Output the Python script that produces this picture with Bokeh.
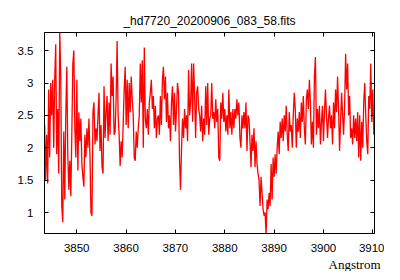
from bokeh.plotting import figure
from bokeh.models import LinearAxis, FixedTicker, Title
from bokeh.embed import file_html
from bokeh.resources import INLINE

title_text = "_hd7720_20200906_083_58.fits"
x_label = "Angstrom"

wave_start = 3843.5
wave_step = 0.204

flux_a = [2.35, 1.5, 2.2, 1.45, 2.9, 1.85, 3.0, 2.5, 3.05, 2.0, 3.05, 3.6, 1.9, 2.6, 1.6, 3.8,
          3.1, 1.1, 0.85, 2.25, 1.2, 2.5, 3.25, 1.9, 1.35, 1.8, 1.25, 2.2, 3.3, 3.5, 2.3, 1.85,
          3.05, 1.65, 2.55, 2.1, 2.45, 1.75, 1.55, 1.4, 2.2, 1.85, 2.3, 2.0, 2.45, 1.9, 1.0, 0.95,
          2.55, 2.7, 2.05, 2.3, 2.1, 2.5, 2.85, 1.95, 2.35, 1.7, 1.6, 2.95, 2.15, 2.55, 2.8, 2.1,
          2.7, 2.2]
flux_b = [3.3, 2.8, 3.1, 2.2, 2.25, 2.75, 3.65, 2.5, 2.2, 1.72, 2.1, 1.85, 2.35, 2.9, 3.25, 2.35,
          3.05, 2.3, 3.0, 2.55, 3.1, 2.75, 2.5, 1.85, 1.8, 2.25, 2.0, 2.3, 2.5, 3.3, 2.7, 3.35,
          2.0, 3.55, 2.45, 2.3, 2.6, 2.2, 2.7, 2.85, 3.05, 2.6, 2.8, 2.3, 2.65, 2.15, 2.45, 2.5,
          2.2, 2.8, 2.35, 3.05, 3.25, 2.75, 3.1, 2.4, 2.85, 2.3, 2.5, 2.1, 2.7, 2.95, 2.35, 2.85,
          2.25, 2.6]
flux_c = [3.0, 2.85, 1.8, 1.35, 2.0, 2.45, 2.15, 2.6, 2.3, 2.5, 2.1, 3.2, 2.5, 2.7, 3.3, 2.4,
          3.3, 2.8, 2.15, 2.85, 2.95, 2.6, 2.5, 2.25, 2.65, 2.1, 2.45, 2.2, 2.95, 2.35, 3.0, 2.2,
          2.45, 2.5, 3.0, 2.45, 2.55, 2.3, 2.75, 2.4, 2.6, 1.85, 1.8, 2.7, 2.45, 2.85, 2.4, 2.6,
          2.25, 2.5, 2.2, 2.9, 2.3, 2.55, 2.2, 2.6, 2.3, 2.6, 2.45, 2.75, 2.5, 2.7, 2.15, 2.0,
          2.5, 2.3]
flux_d = [2.55, 2.3, 2.7, 1.95, 2.5, 2.45, 2.1, 1.7, 2.2, 1.95, 2.3, 1.7, 2.1, 1.75, 1.6, 1.5,
          1.1, 1.55, 1.3, 1.05, 0.95, 1.0, 0.65, 1.2, 1.05, 1.3, 1.1, 1.75, 1.2, 1.85, 1.55, 1.9,
          1.6, 2.0, 2.25, 1.9, 2.4, 2.15, 2.45, 2.1, 2.5, 2.25, 2.65, 2.2, 1.95, 2.55, 2.25, 2.35,
          2.0, 2.5, 2.85, 2.6, 2.0, 2.45, 2.25, 2.55, 2.15, 2.7, 2.4, 2.8, 2.3, 2.05, 2.75, 2.9,
          2.6, 3.05]
flux_e = [2.7, 2.05, 2.4, 2.0, 3.1, 3.4, 2.2, 2.6, 2.3, 2.65, 2.05, 2.4, 2.65, 2.1, 2.55, 2.9,
          2.5, 2.15, 2.45, 2.65, 2.3, 2.5, 2.05, 2.7, 2.3, 2.9, 2.55, 3.1, 2.6, 1.95, 2.4, 2.85,
          2.5, 2.2, 2.65, 3.45, 2.9, 3.3, 2.5, 2.8, 2.15, 2.3, 2.05, 2.5, 2.15, 2.45, 2.1, 2.55,
          1.85, 2.5, 1.8, 2.4, 2.0, 2.7, 3.0, 2.5, 2.1, 1.9, 2.8, 2.6, 3.3, 2.4, 2.9, 2.2,
          2.5, 2.15]

flux = flux_a + flux_b + flux_c + flux_d + flux_e
wave = [wave_start + wave_step * i for i in range(len(flux))]

x_ticks = [3850, 3860, 3870, 3880, 3890, 3900, 3910]
y_ticks = [1, 1.5, 2, 2.5, 3, 3.5]
y_tick_labels = ["1", "1.5", "2", "2.5", "3", "3.5"]

p = figure(frame_width=330, frame_height=201, output_backend="svg", toolbar_location=None,
           x_range=(3843.47, 3910.35), y_range=(0.676, 3.78),
           min_border_left=44, min_border_right=10, min_border_top=32, min_border_bottom=10,
           background_fill_color="white", border_fill_color="white")

p.title.text = title_text
p.title.align = "center"
p.title.text_font = "Liberation Sans"
p.title.text_font_size = "12px"
p.title.text_font_style = "normal"
p.title.text_color = "black"
p.title.standoff = 9

p.line(wave, flux, line_color="#ff0000", line_width=1.3)

p.xgrid.visible = False
p.ygrid.visible = False
p.outline_line_color = "black"
p.outline_line_width = 1

font = "Liberation Sans"

def style(ax, ticks, show):
    ax.ticker = FixedTicker(ticks=ticks)
    ax.major_tick_in = 4
    ax.major_tick_out = 0
    ax.minor_tick_in = 0
    ax.minor_tick_out = 0
    ax.axis_line_color = "black"
    ax.major_tick_line_color = "black"
    ax.major_label_text_font = font
    ax.major_label_text_font_size = "11.5px"
    ax.major_label_text_color = "black"
    if not show:
        ax.major_label_overrides = {t: "" for t in ticks}
        ax.major_label_standoff = 0

xa = p.xaxis[0]
style(xa, x_ticks, True)
xa.major_label_standoff = 10
ya = p.yaxis[0]
style(ya, y_ticks, True)
ya.major_label_overrides = {t: s for t, s in zip(y_ticks, y_tick_labels)}
ya.major_label_standoff = 11

top = LinearAxis()
style(top, x_ticks, False)
p.add_layout(top, "above")
right = LinearAxis()
style(right, y_ticks, False)
p.add_layout(right, "right")

xt = Title(text=x_label, align="right", text_font="Liberation Serif",
           text_font_size="13px", text_font_style="normal", text_color="black",
           standoff=0, offset=-6)
p.add_layout(xt, "below")

open("out.html", "w").write(file_html(p, INLINE))
